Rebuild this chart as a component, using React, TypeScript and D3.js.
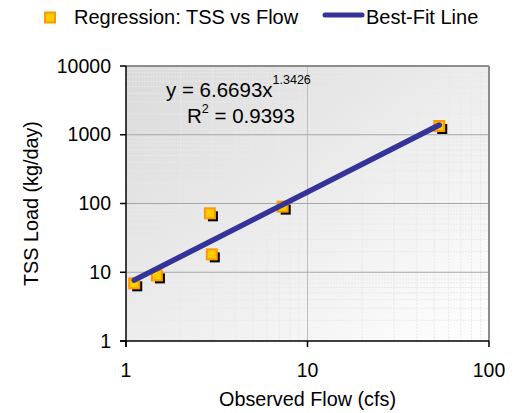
import React from "react";
import * as d3 from "d3";

const flow = [1.11, 1.48, 2.9, 2.97, 7.3, 53.2];
const tssLoad = [6.9, 9.0, 72, 18.2, 90, 1340];
const fitCoefA = 6.6693;
const fitExpB = 1.3426;
const xTicks = [1, 10, 100];
const yTicks = [1, 10, 100, 1000, 10000];

const W = 522;
const H = 413;
const L = 126, R = 489, T = 66, B = 341;
const FONT = "'Liberation Sans', Arial, Helvetica, sans-serif";

export default function App() {
  const x = d3.scaleLog().domain([1, 100]).range([L, R]);
  const y = d3.scaleLog().domain([1, 10000]).range([B, T]);

  const minorX: number[] = [];
  for (let d = 1; d < 100; d *= 10) for (let k = 2; k <= 9; k++) minorX.push(d * k);
  const minorY: number[] = [];
  for (let d = 1; d < 10000; d *= 10) for (let k = 2; k <= 9; k++) minorY.push(d * k);

  const fitXs = [d3.min(flow)!, d3.max(flow)!];
  const fitPts: [number, number][] = fitXs.map((v) => [v, fitCoefA * Math.pow(v, fitExpB)]);
  const line = d3.line<[number, number]>().x((d) => x(d[0])).y((d) => y(d[1]));

  const ms = 10;

  return (
    <svg width={W} height={H} style={{ position: "absolute", left: 0, top: 0, fontFamily: FONT }}>
      <defs>
        <linearGradient id="bg" x1="0" y1="0" x2="1" y2="1">
          <stop offset="0" stopColor="#dadada" />
          <stop offset="1" stopColor="#ffffff" />
        </linearGradient>
      </defs>
      <rect x={0} y={0} width={W} height={H} fill="#fff" />
      <rect x={L} y={T} width={R - L} height={B - T} fill="url(#bg)" />

      {/* minor grid */}
      {minorX.map((v) => (
        <line key={"mx" + v} x1={x(v)} x2={x(v)} y1={T} y2={B} stroke="#e9e9e9" strokeWidth={1} strokeDasharray="2,1" />
      ))}
      {minorY.map((v) => (
        <line key={"my" + v} x1={L} x2={R} y1={y(v)} y2={y(v)} stroke="#e9e9e9" strokeWidth={1} strokeDasharray="2,1" />
      ))}
      {/* major grid */}
      {xTicks.slice(1, -1).map((v) => (
        <line key={"gx" + v} x1={x(v)} x2={x(v)} y1={T} y2={B} stroke="#bdbdbd" strokeWidth={1} />
      ))}
      {yTicks.slice(1, -1).map((v) => (
        <line key={"gy" + v} x1={L} x2={R} y1={y(v)} y2={y(v)} stroke="#a6a6a6" strokeWidth={1} />
      ))}

      {/* border */}
      <line x1={L} x2={R} y1={T} y2={T} stroke="#8c8c8c" strokeWidth={2} />
      <line x1={R} x2={R} y1={T} y2={B} stroke="#8c8c8c" strokeWidth={2} />
      <line x1={L} x2={L} y1={T} y2={B + 6} stroke="#000" strokeWidth={1.5} />
      <line x1={L - 6} x2={R} y1={B} y2={B} stroke="#000" strokeWidth={1.5} />

      {/* ticks */}
      {yTicks.map((v) => (
        <g key={"yt" + v}>
          <line x1={L - 6} x2={L} y1={y(v)} y2={y(v)} stroke="#000" strokeWidth={1.5} />
          <text x={111} y={y(v) + 6.5} textAnchor="end" fontSize={19.5} fill="#000">
            {v}
          </text>
        </g>
      ))}
      {xTicks.map((v) => (
        <g key={"xt" + v}>
          <line x1={x(v)} x2={x(v)} y1={B} y2={B + 6} stroke="#000" strokeWidth={1.5} />
          <text x={x(v)} y={377} textAnchor="middle" fontSize={19.5} fill="#000">
            {v}
          </text>
        </g>
      ))}

      {/* markers */}
      {flow.map((f, i) => (
        <rect key={"s" + i} x={x(f) - ms / 2 + 3} y={y(tssLoad[i]) - ms / 2 + 3} width={ms} height={ms} fill="#000" />
      ))}
      {flow.map((f, i) => (
        <rect key={"m" + i} x={x(f) - ms / 2} y={y(tssLoad[i]) - ms / 2} width={ms} height={ms} fill="#FFCC00" stroke="#FF9900" strokeWidth={2} />
      ))}

      {/* fit line */}
      <path d={line(fitPts) || ""} fill="none" stroke="#333399" strokeWidth={5.5} strokeLinecap="round" />

      {/* equation */}
      <text x={166} y={97} fontSize={20.5} fill="#000">
        y = 6.6693x
        <tspan fontSize={12.5} dy={-13}>1.3426</tspan>
      </text>
      <text x={187} y={123} fontSize={20.5} fill="#000">
        R<tspan fontSize={12.5} dy={-10}>2</tspan>
        <tspan dy={10}> = 0.9393</tspan>
      </text>

      {/* axis titles */}
      <text x={(L + R) / 2} y={406} textAnchor="middle" fontSize={19.8} fill="#000">
        Observed Flow (cfs)
      </text>
      <text transform={`translate(38,${(T + B) / 2}) rotate(-90)`} textAnchor="middle" fontSize={19.8} fill="#000">
        TSS Load (kg/day)
      </text>

      {/* legend */}
      <rect x={45} y={12.5} width={10} height={10} fill="#FFCC00" stroke="#FF9900" strokeWidth={2} />
      <text x={74} y={23.5} fontSize={20} fill="#000">
        Regression: TSS vs Flow
      </text>
      <line x1={325} x2={362} y1={15} y2={15} stroke="#333399" strokeWidth={5} strokeLinecap="round" />
      <text x={366} y={23.5} fontSize={20} fill="#000">
        Best-Fit Line
      </text>
    </svg>
  );
}
